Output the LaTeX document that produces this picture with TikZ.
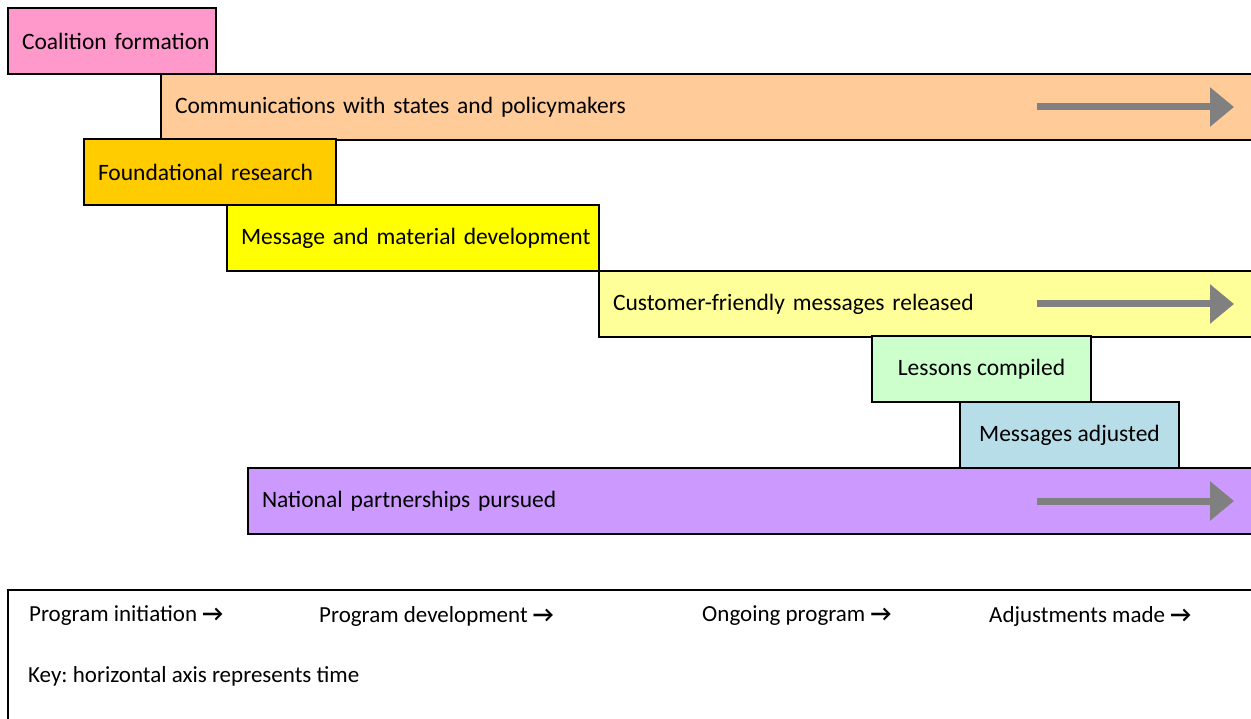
\documentclass[tikz,border=0pt]{standalone}
\usepackage{fontspec}
\setmainfont{Carlito}
\usepackage{tikz}
\usetikzlibrary{positioning,arrows.meta}

\definecolor{coalpink}{HTML}{FF99CC}
\definecolor{commpeach}{HTML}{FFCC99}
\definecolor{foundgold}{HTML}{FFCC00}
\definecolor{msgyellow}{HTML}{FFFF00}
\definecolor{custyellow}{HTML}{FFFF99}
\definecolor{lessgreen}{HTML}{CCFFCC}
\definecolor{adjblue}{HTML}{B7DEE8}
\definecolor{natpurple}{HTML}{CC99FF}
\definecolor{arrowgray}{HTML}{808080}

\newcommand{\keyarrow}{~{\bfseries →}}

\begin{document}
\frenchspacing
\begin{tikzpicture}[x=1pt, y=-1pt,
    bar/.style={rectangle, draw, line width=2pt, anchor=north west, outer sep=0pt,
      minimum height=66pt, inner xsep=14pt, inner ysep=0pt, align=left,
      font=\fontsize{23.5}{28}\selectfont},
    midbar/.style={bar, align=center, inner xsep=0pt},
    timearrow/.style={-{Triangle[length=24pt,width=38pt]}, line width=7pt, draw=arrowgray},
    keytext/.style={anchor=west, inner sep=0pt, font=\fontsize{23}{27}\selectfont}]

    \path[use as bounding box, clip] (0,0) rectangle (1251,719);

    % phases, top to bottom
    \node[bar, fill=coalpink, text width=180pt] (coal) at (8,8) {\mbox{Coalition formation}};
    \node[bar, fill=commpeach, text width=1072pt] (comm) at (161,74) {Communications with states and policymakers};
    \node[bar, fill=foundgold, text width=224pt] (found) at (84,139) {Foundational research};
    \node[bar, fill=msgyellow, text width=344pt] (msgdev) at (227,205) {\mbox{Message and material development}};
    \node[bar, fill=custyellow, text width=634pt] (cust) at (599,271) {Customer-friendly messages released};
    \node[midbar, fill=lessgreen, minimum width=219pt] (lessons) at (872,336) {Lessons compiled};
    \node[midbar, fill=adjblue, minimum width=219pt] (adjust) at (960,402) {Messages adjusted};
    \node[bar, fill=natpurple, text width=985pt] (natl) at (248,468) {National partnerships pursued};

    % ongoing activities
    \draw[timearrow] ([xshift=-224pt]comm.east) -- ([xshift=-27pt]comm.east);
    \draw[timearrow] ([xshift=-224pt]cust.east) -- ([xshift=-27pt]cust.east);
    \draw[timearrow] ([xshift=-224pt]natl.east) -- ([xshift=-27pt]natl.east);

    % key
    \node[draw, line width=2pt, anchor=north west, outer sep=0pt,
      minimum width=1260pt, minimum height=140pt] (key) at (8,590) {};
    \node[keytext] (init) at (29,616) {Program initiation\keyarrow};
    \node[keytext] (dev) at (319,616) {Program development\keyarrow};
    \node[keytext] (ongoing) at (702,616) {Ongoing program\keyarrow};
    \node[keytext] (adjmade) at (989,616) {Adjustments made\keyarrow};
    \node[keytext] (axis) at (28,676) {Key: horizontal axis represents time};
\end{tikzpicture}
\end{document}
